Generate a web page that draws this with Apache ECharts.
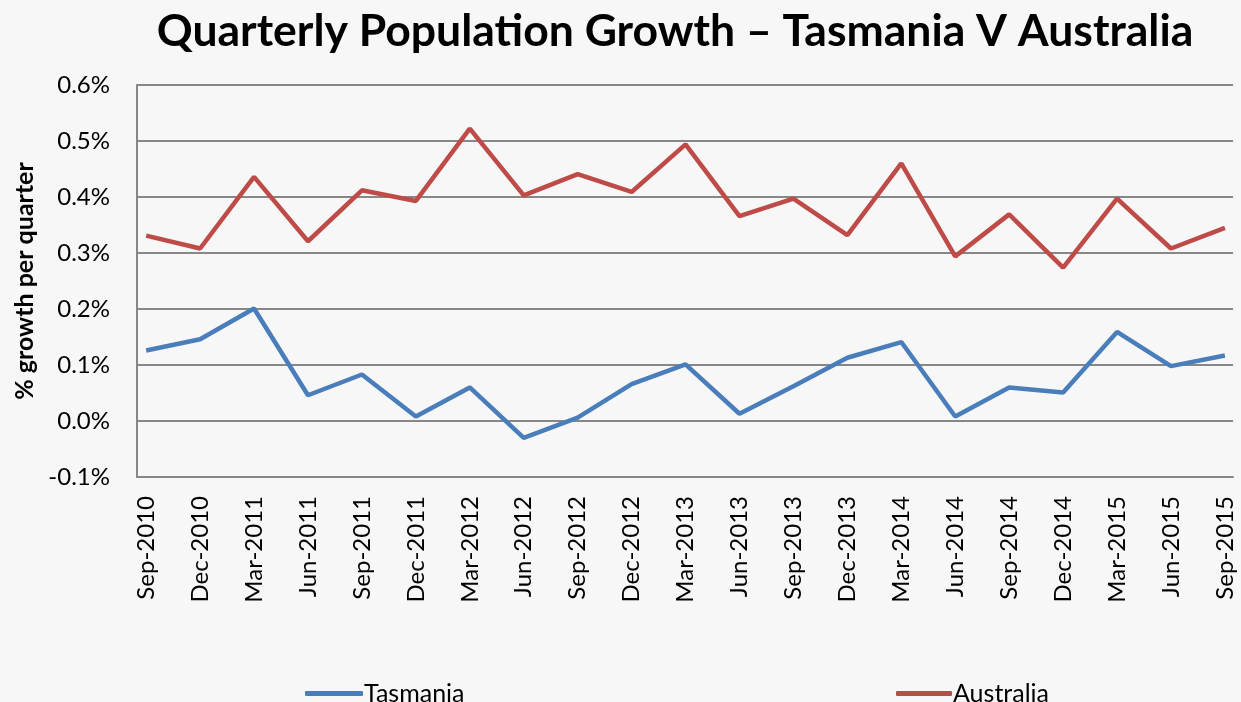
<!DOCTYPE html>
<html>
<head>
<meta charset="utf-8">
<script src="https://cdn.jsdelivr.net/npm/echarts@6/dist/echarts.min.js"></script>
<style>
  html, body { margin: 0; padding: 0; background: #f7f7f7; }
  #chart { width: 1241px; height: 702px; }
</style>
</head>
<body>
<div id="chart"></div>
<script>
// quarters on the x axis
var quarters = ['Sep-2010', 'Dec-2010', 'Mar-2011', 'Jun-2011', 'Sep-2011', 'Dec-2011',
  'Mar-2012', 'Jun-2012', 'Sep-2012', 'Dec-2012', 'Mar-2013', 'Jun-2013', 'Sep-2013',
  'Dec-2013', 'Mar-2014', 'Jun-2014', 'Sep-2014', 'Dec-2014', 'Mar-2015', 'Jun-2015', 'Sep-2015'];
// % growth per quarter
var tasmania = [0.126, 0.146, 0.201, 0.046, 0.083, 0.008, 0.060, -0.030, 0.006, 0.066, 0.101,
  0.013, 0.062, 0.113, 0.141, 0.008, 0.060, 0.051, 0.159, 0.098, 0.117];
var australia = [0.331, 0.308, 0.436, 0.321, 0.412, 0.393, 0.522, 0.403, 0.441, 0.409, 0.494,
  0.366, 0.397, 0.332, 0.460, 0.294, 0.369, 0.274, 0.397, 0.308, 0.345];
var yMin = -0.1, yMax = 0.6, yStep = 0.1;

var font = 'Lato, "Open Sans", sans-serif';
var gridColor = '#878787';

function pairs(arr) {
  return arr.map(function (v, i) { return [i, v]; });
}
var idx = quarters.map(function (q, i) { return i; });

var chart = echarts.init(document.getElementById('chart'));
var option = {
  backgroundColor: '#f7f7f7',
  animation: false,
  title: {
    text: 'Quarterly Population Growth \u2013 Tasmania V Australia',
    top: 4,
    left: 670,
    textAlign: 'center',
    textStyle: { fontFamily: font, fontSize: 44.5, fontWeight: 'bold', color: '#000' }
  },
  legend: [{
    data: ['Tasmania'],
    left: 300,
    top: 676,
    icon: 'roundRect',
    itemWidth: 58,
    itemHeight: 5,
    itemGap: 4,
    textStyle: { fontFamily: font, fontSize: 25, color: '#000', padding: [0, 0, 0, -4] }
  }, {
    data: ['Australia'],
    left: 891,
    top: 676,
    icon: 'roundRect',
    itemWidth: 56,
    itemHeight: 5,
    textStyle: { fontFamily: font, fontSize: 25, color: '#000', padding: [0, 0, 0, -4] }
  }],
  grid: { left: 137, right: 8, top: 85, bottom: 225 },
  xAxis: {
    type: 'value',
    min: -0.17,
    max: quarters.length - 1 + 0.15,
    splitLine: { show: false },
    axisTick: { show: false },
    axisLine: { onZero: false, lineStyle: { color: gridColor, width: 2 } },
    axisLabel: {
      customValues: idx,
      rotate: 90,
      margin: 19,
      fontFamily: font,
      fontSize: 24,
      color: '#000',
      formatter: function (v) { return quarters[Math.round(v)]; }
    }
  },
  yAxis: {
    type: 'value',
    min: yMin,
    max: yMax,
    interval: yStep,
    name: '% growth per quarter',
    nameLocation: 'middle',
    nameGap: 98,
    nameTextStyle: { fontFamily: font, fontSize: 25, fontWeight: 'bold', color: '#000' },
    axisTick: { show: false },
    axisLine: { show: true, onZero: false, lineStyle: { color: gridColor, width: 2 } },
    splitLine: { lineStyle: { color: gridColor, width: 2 } },
    axisLabel: {
      margin: 27,
      fontFamily: font,
      fontSize: 24,
      color: '#000',
      formatter: function (v) { return v.toFixed(1) + '%'; }
    }
  },
  series: [{
    name: 'Tasmania',
    type: 'line',
    symbol: 'none',
    data: pairs(tasmania),
    itemStyle: { color: '#4a7ebb' },
    lineStyle: { color: '#4a7ebb', width: 4.5 }
  }, {
    name: 'Australia',
    type: 'line',
    symbol: 'none',
    data: pairs(australia),
    itemStyle: { color: '#be4b48' },
    lineStyle: { color: '#be4b48', width: 4.5 }
  }]
};
chart.setOption(option);
</script>
</body>
</html>
